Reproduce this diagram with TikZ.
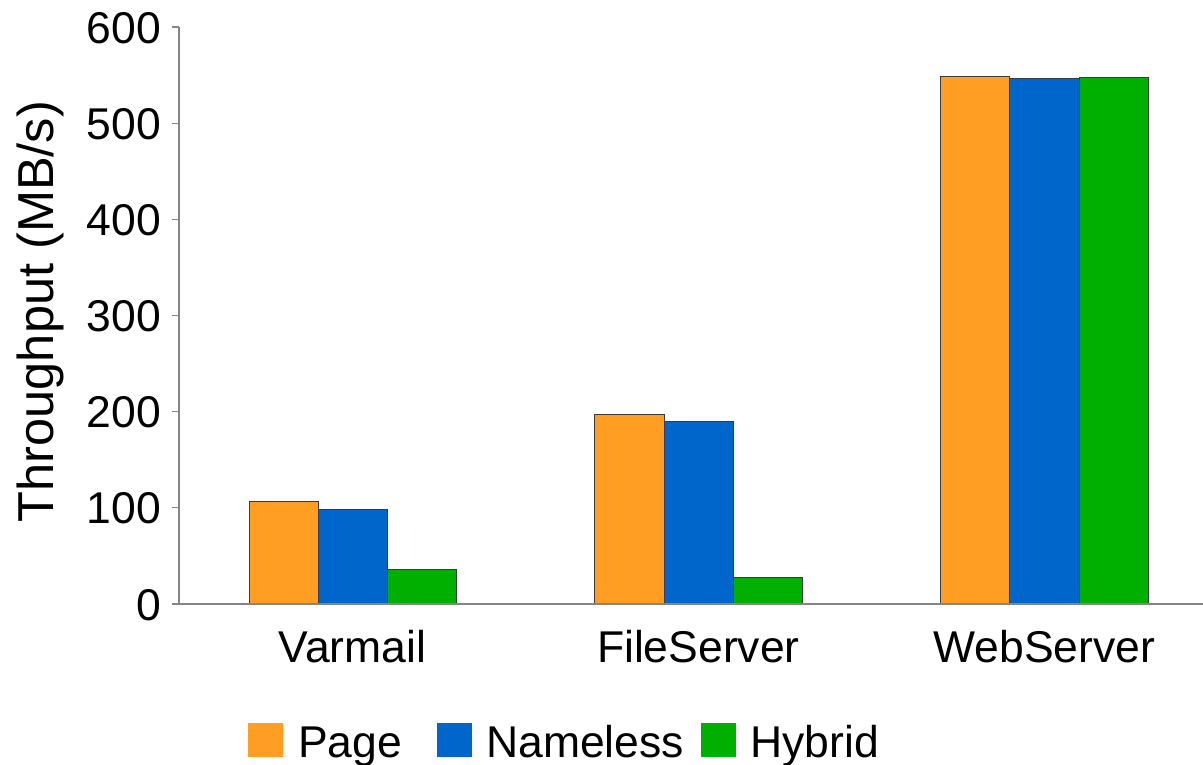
\documentclass[tikz,border=0pt]{standalone}
\usepackage{fontspec}
\setmainfont{Liberation Sans}
\definecolor{cpage}{HTML}{FF9E22}
\definecolor{cname}{HTML}{0066CC}
\definecolor{chyb}{HTML}{00B000}
\definecolor{axisgray}{HTML}{858585}
\definecolor{edgegray}{HTML}{3A3A3A}
\tikzset{
  lbl/.style={inner sep=0pt, font=\fontsize{44.5}{50}\selectfont},
  bar/.style={draw=edgegray, line width=0.9pt},
  axisline/.style={draw=axisgray, line width=1.3pt},
  keybox/.style={inner sep=0pt, minimum width=35pt, minimum height=34pt, anchor=south west}
}
\begin{document}
\begin{tikzpicture}[x=1pt, y=-1pt]
\useasboundingbox (0,0) rectangle (1203,764);

% value axis: 0 at y=604, 600 at y=27
\def\yz{604}
\def\ys{0.961667}

% bars: group left edge, then Page / Nameless / Hybrid
\foreach \pg/\nm/\hb [count=\i from 0] in {107/98/36, 197/190/28, 549/546/548} {
  \pgfmathsetmacro\xo{249+345.8*\i}
  \pgfmathsetmacro\xa{\xo+69.2}
  \pgfmathsetmacro\xb{\xo+138.4}
  \pgfmathsetmacro\xc{\xo+207.6}
  \filldraw[bar, fill=cpage] (\xo,\yz) rectangle (\xa,\yz-\pg*\ys);
  \filldraw[bar, fill=cname] (\xa,\yz) rectangle (\xb,\yz-\nm*\ys);
  \filldraw[bar, fill=chyb]  (\xb,\yz) rectangle (\xc,\yz-\hb*\ys);
}

% axes
\draw[axisline] (179,27) -- (179,604) -- (1203,604);
\foreach \v in {0,...,6} {
  \pgfmathsetmacro\yy{\yz-100*\v*\ys}
  \draw[axisline] (172,\yy) -- (179,\yy);
  \node[lbl, anchor=base east] (tick\v) at (161,\yy+16) {\the\numexpr\v*100\relax};
}

% axis title
\node[inner sep=0pt, anchor=base, rotate=90, font=\fontsize{50.5}{56}\selectfont]
  (ytitle) at (53,311.5) {Throughput (MB/s)};

% category labels
\node[lbl, anchor=base] (cat1) at (352.6,662) {Varmail};
\node[lbl, anchor=base] (cat2) at (698.4,662) {FileServer};
\node[lbl, anchor=base] (cat3) at (1044.2,662) {WebServer};

% legend
\node[keybox, fill=cpage] (k1) at (248,757) {};
\node[lbl, anchor=base west] (l1) at (298,757) {Page};
\node[keybox, fill=cname] (k2) at (437,757) {};
\node[lbl, anchor=base west] (l2) at (486,757) {Nameless};
\node[keybox, fill=chyb] (k3) at (701,757) {};
\node[lbl, anchor=base west] (l3) at (750,757) {Hybrid};
\end{tikzpicture}
\end{document}
